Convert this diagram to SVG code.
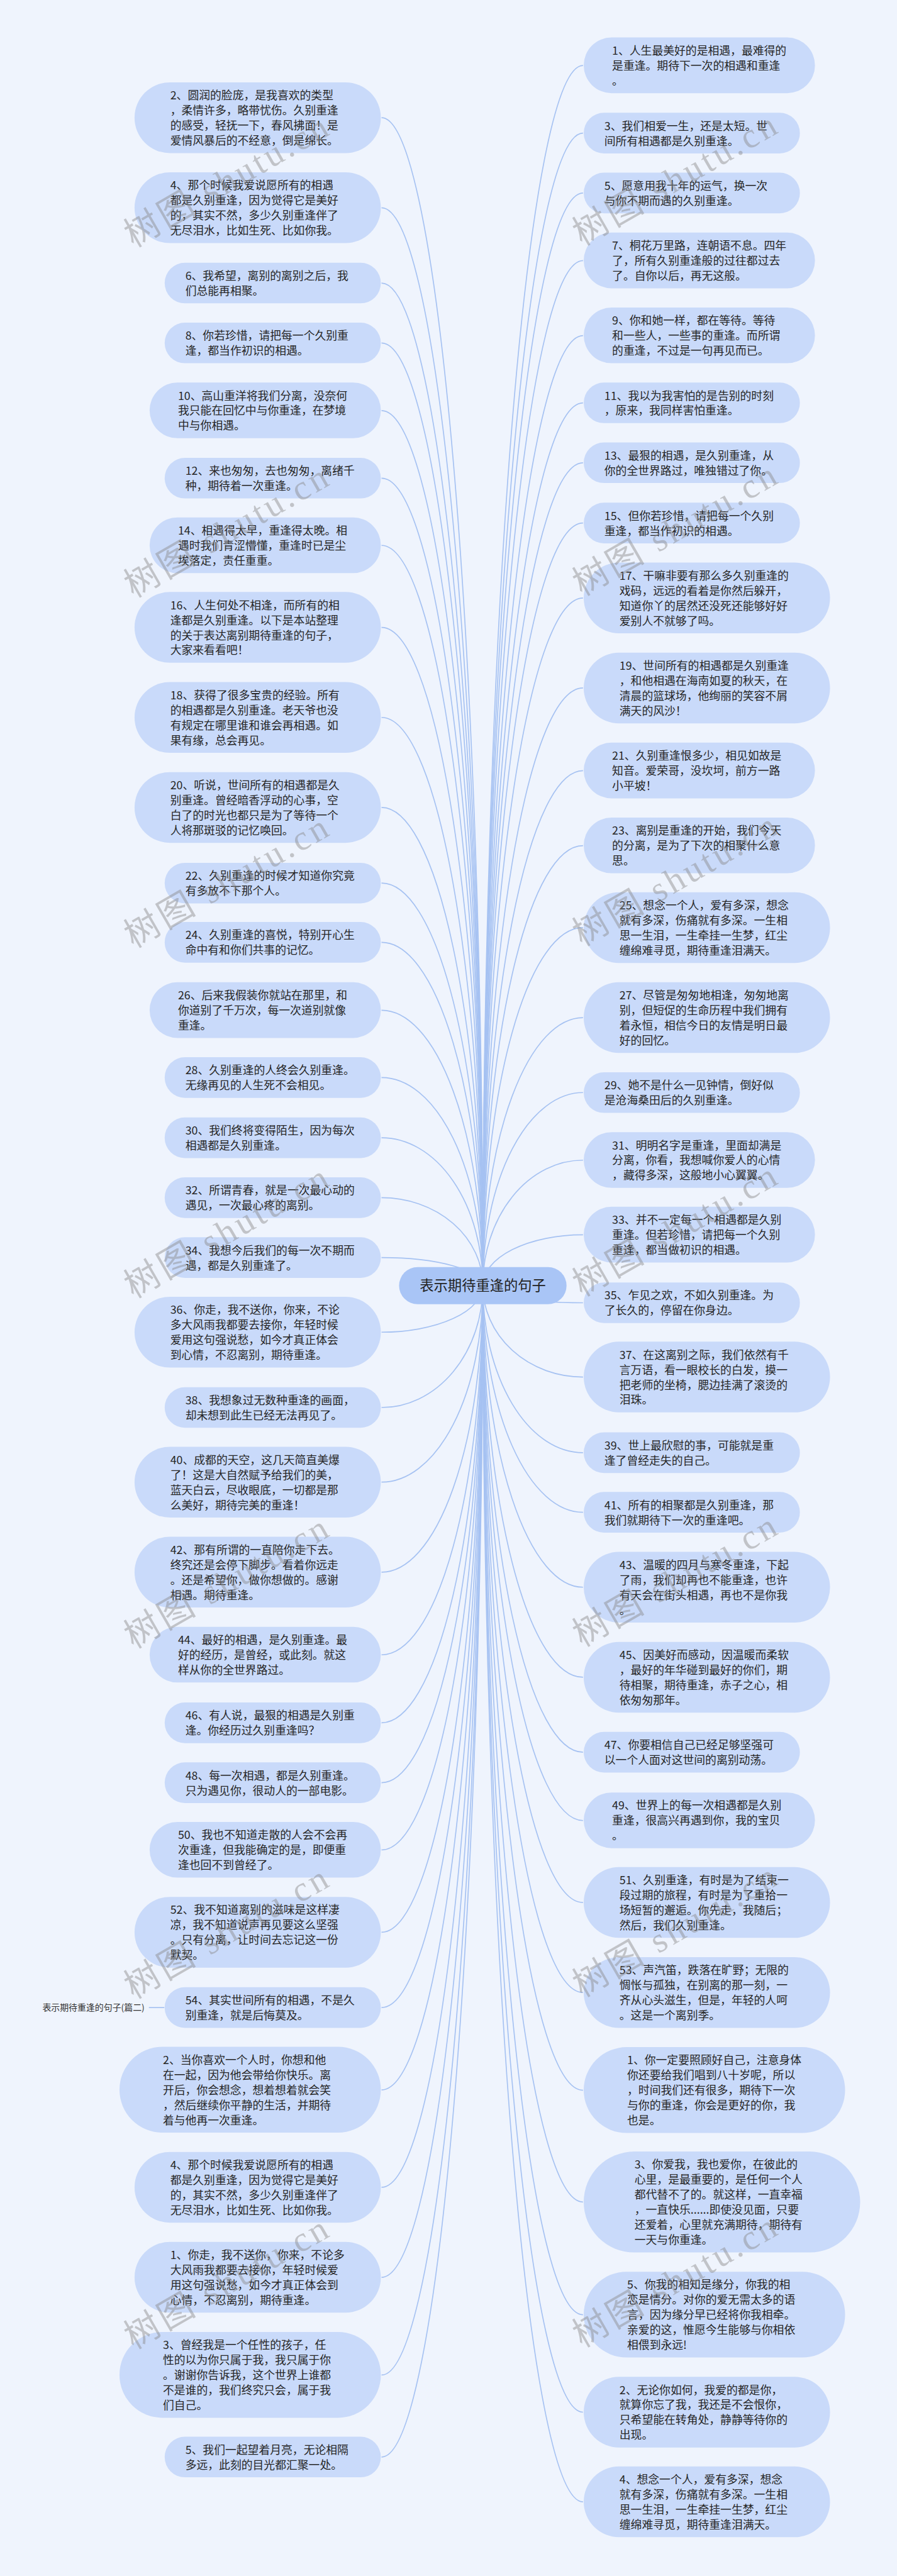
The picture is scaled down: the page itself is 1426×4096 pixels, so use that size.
<svg xmlns="http://www.w3.org/2000/svg" width="1426" height="4096" viewBox="0 0 1426 4096">
<style>
.n{fill:#c9dafa;}
.t{font-family:"Noto Sans CJK SC","Noto Sans",sans-serif;font-size:32px;fill:#262626;}
.c{fill:none;stroke:#a6c2f2;stroke-width:3;}
.w{font-family:"Liberation Serif","Noto Sans CJK SC",serif;font-size:100px;fill:#8a8a8a;opacity:0.45;}
</style>
<rect x="0" y="0" width="1426" height="4096" fill="#eff4fd"/>
<g transform="scale(0.557)">
<g id="connectors">
<path class="c" d="M1378 3670 A289 3334 0 0 0 1089 336"/>
<path class="c" d="M1378 3670 A289 3077 0 0 0 1089 593"/>
<path class="c" d="M1378 3670 A289 2862 0 0 0 1089 808"/>
<path class="c" d="M1378 3670 A289 2691 0 0 0 1089 979"/>
<path class="c" d="M1378 3670 A289 2498 0 0 0 1089 1172"/>
<path class="c" d="M1378 3670 A289 2305 0 0 0 1089 1365"/>
<path class="c" d="M1378 3670 A289 2113 0 0 0 1089 1557"/>
<path class="c" d="M1378 3670 A289 1879 0 0 0 1089 1791"/>
<path class="c" d="M1378 3670 A289 1622 0 0 0 1089 2048"/>
<path class="c" d="M1378 3670 A289 1365 0 0 0 1089 2305"/>
<path class="c" d="M1378 3670 A289 1149 0 0 0 1089 2521"/>
<path class="c" d="M1378 3670 A289 980 0 0 0 1089 2690"/>
<path class="c" d="M1378 3670 A289 786 0 0 0 1089 2884"/>
<path class="c" d="M1378 3670 A289 594 0 0 0 1089 3076"/>
<path class="c" d="M1378 3670 A289 422 0 0 0 1089 3248"/>
<path class="c" d="M1378 3670 A289 251 0 0 0 1089 3419"/>
<path class="c" d="M1378 3670 A289 80 0 0 0 1089 3590"/>
<path class="c" d="M1378 3670 A289 133 0 0 1 1089 3803"/>
<path class="c" d="M1378 3670 A289 348 0 0 1 1089 4018"/>
<path class="c" d="M1378 3670 A289 561 0 0 1 1089 4231"/>
<path class="c" d="M1378 3670 A289 818 0 0 1 1089 4488"/>
<path class="c" d="M1378 3670 A289 1054 0 0 1 1089 4724"/>
<path class="c" d="M1378 3670 A289 1248 0 0 1 1089 4918"/>
<path class="c" d="M1378 3670 A289 1419 0 0 1 1089 5089"/>
<path class="c" d="M1378 3670 A289 1611 0 0 1 1089 5281"/>
<path class="c" d="M1378 3670 A289 1846 0 0 1 1089 5516"/>
<path class="c" d="M1378 3670 A289 2061 0 0 1 1089 5731"/>
<path class="c" d="M1378 3670 A289 2296 0 0 1 1089 5966"/>
<path class="c" d="M1378 3670 A289 2574 0 0 1 1089 6244"/>
<path class="c" d="M1378 3670 A289 2831 0 0 1 1089 6501"/>
<path class="c" d="M1378 3670 A289 3110 0 0 1 1089 6780"/>
<path class="c" d="M1378 3670 A289 3344 0 0 1 1089 7014"/>
<path class="c" d="M1378 3670 A286 3483 0 0 1 1664 187"/>
<path class="c" d="M1378 3670 A286 3290 0 0 1 1664 380"/>
<path class="c" d="M1378 3670 A286 3119 0 0 1 1664 551"/>
<path class="c" d="M1378 3670 A286 2926 0 0 1 1664 744"/>
<path class="c" d="M1378 3670 A286 2712 0 0 1 1664 958"/>
<path class="c" d="M1378 3670 A286 2520 0 0 1 1664 1150"/>
<path class="c" d="M1378 3670 A286 2349 0 0 1 1664 1321"/>
<path class="c" d="M1378 3670 A286 2177 0 0 1 1664 1493"/>
<path class="c" d="M1378 3670 A286 1963 0 0 1 1664 1707"/>
<path class="c" d="M1378 3670 A286 1706 0 0 1 1664 1964"/>
<path class="c" d="M1378 3670 A286 1470 0 0 1 1664 2200"/>
<path class="c" d="M1378 3670 A286 1256 0 0 1 1664 2414"/>
<path class="c" d="M1378 3670 A286 1022 0 0 1 1664 2648"/>
<path class="c" d="M1378 3670 A286 765 0 0 1 1664 2905"/>
<path class="c" d="M1378 3670 A286 551 0 0 1 1664 3119"/>
<path class="c" d="M1378 3670 A286 358 0 0 1 1664 3312"/>
<path class="c" d="M1378 3670 A286 145 0 0 1 1664 3525"/>
<path class="c" d="M1378 3670 A286 49 0 0 0 1664 3719"/>
<path class="c" d="M1378 3670 A286 261 0 0 0 1664 3931"/>
<path class="c" d="M1378 3670 A286 477 0 0 0 1664 4147"/>
<path class="c" d="M1378 3670 A286 647 0 0 0 1664 4317"/>
<path class="c" d="M1378 3670 A286 861 0 0 0 1664 4531"/>
<path class="c" d="M1378 3670 A286 1118 0 0 0 1664 4788"/>
<path class="c" d="M1378 3670 A286 1332 0 0 0 1664 5002"/>
<path class="c" d="M1378 3670 A286 1527 0 0 0 1664 5197"/>
<path class="c" d="M1378 3670 A286 1761 0 0 0 1664 5431"/>
<path class="c" d="M1378 3670 A286 2018 0 0 0 1664 5688"/>
<path class="c" d="M1378 3670 A286 2297 0 0 0 1664 5967"/>
<path class="c" d="M1378 3670 A286 2616 0 0 0 1664 6286"/>
<path class="c" d="M1378 3670 A286 2938 0 0 0 1664 6608"/>
<path class="c" d="M1378 3670 A286 3216 0 0 0 1664 6886"/>
<path class="c" d="M1378 3670 A286 3472 0 0 0 1664 7142"/>
<path class="c" d="M425 5731 L469 5731"/>
</g>
<g id="L2"><rect class="n" x="384" y="235" width="703" height="202" rx="101"/><text class="t" x="486" y="284">2、圆润的脸庞，是我喜欢的类型</text><text class="t" x="486" y="327">，柔情许多，略带忧伤。久别重逢</text><text class="t" x="486" y="370">的感受，轻抚一下，春风拂面！是</text><text class="t" x="486" y="413">爱情风暴后的不经意，倒是绵长。</text></g>
<g id="L4"><rect class="n" x="384" y="492" width="703" height="202" rx="101"/><text class="t" x="486" y="541">4、那个时候我爱说愿所有的相遇</text><text class="t" x="486" y="584">都是久别重逢，因为觉得它是美好</text><text class="t" x="486" y="627">的，其实不然，多少久别重逢伴了</text><text class="t" x="486" y="670">无尽泪水，比如生死、比如你我。</text></g>
<g id="L6"><rect class="n" x="470" y="750" width="617" height="116" rx="58"/><text class="t" x="529" y="799">6、我希望，离别的离别之后，我</text><text class="t" x="529" y="842">们总能再相聚。</text></g>
<g id="L8"><rect class="n" x="470" y="921" width="617" height="116" rx="58"/><text class="t" x="529" y="970">8、你若珍惜，请把每一个久别重</text><text class="t" x="529" y="1013">逢，都当作初识的相遇。</text></g>
<g id="L10"><rect class="n" x="427" y="1092" width="660" height="159" rx="79.5"/><text class="t" x="508" y="1141">10、高山重洋将我们分离，没奈何</text><text class="t" x="508" y="1184">我只能在回忆中与你重逢，在梦境</text><text class="t" x="508" y="1227">中与你相遇。</text></g>
<g id="L12"><rect class="n" x="470" y="1307" width="617" height="116" rx="58"/><text class="t" x="529" y="1356">12、来也匆匆，去也匆匆，离绪千</text><text class="t" x="529" y="1399">种，期待着一次重逢。</text></g>
<g id="L14"><rect class="n" x="427" y="1477" width="660" height="159" rx="79.5"/><text class="t" x="508" y="1526">14、相遇得太早，重逢得太晚。相</text><text class="t" x="508" y="1569">遇时我们青涩懵懂，重逢时已是尘</text><text class="t" x="508" y="1612">埃落定，责任重重。</text></g>
<g id="L16"><rect class="n" x="384" y="1690" width="703" height="202" rx="101"/><text class="t" x="486" y="1739">16、人生何处不相逢，而所有的相</text><text class="t" x="486" y="1782">逢都是久别重逢。以下是本站整理</text><text class="t" x="486" y="1825">的关于表达离别期待重逢的句子，</text><text class="t" x="486" y="1868">大家来看看吧！</text></g>
<g id="L18"><rect class="n" x="384" y="1947" width="703" height="202" rx="101"/><text class="t" x="486" y="1996">18、获得了很多宝贵的经验。所有</text><text class="t" x="486" y="2039">的相遇都是久别重逢。老天爷也没</text><text class="t" x="486" y="2082">有规定在哪里谁和谁会再相遇。如</text><text class="t" x="486" y="2125">果有缘，总会再见。</text></g>
<g id="L20"><rect class="n" x="384" y="2204" width="703" height="202" rx="101"/><text class="t" x="486" y="2253">20、听说，世间所有的相遇都是久</text><text class="t" x="486" y="2296">别重逢。曾经暗香浮动的心事，空</text><text class="t" x="486" y="2339">白了的时光也都只是为了等待一个</text><text class="t" x="486" y="2382">人将那斑驳的记忆唤回。</text></g>
<g id="L22"><rect class="n" x="470" y="2463" width="617" height="116" rx="58"/><text class="t" x="529" y="2512">22、久别重逢的时候才知道你究竟</text><text class="t" x="529" y="2555">有多放不下那个人。</text></g>
<g id="L24"><rect class="n" x="470" y="2632" width="617" height="116" rx="58"/><text class="t" x="529" y="2681">24、久别重逢的喜悦，特别开心生</text><text class="t" x="529" y="2724">命中有和你们共事的记忆。</text></g>
<g id="L26"><rect class="n" x="427" y="2804" width="660" height="159" rx="79.5"/><text class="t" x="508" y="2853">26、后来我假装你就站在那里，和</text><text class="t" x="508" y="2896">你道别了千万次，每一次道别就像</text><text class="t" x="508" y="2939">重逢。</text></g>
<g id="L28"><rect class="n" x="470" y="3018" width="617" height="116" rx="58"/><text class="t" x="529" y="3067">28、久别重逢的人终会久别重逢。</text><text class="t" x="529" y="3110">无缘再见的人生死不会相见。</text></g>
<g id="L30"><rect class="n" x="470" y="3190" width="617" height="116" rx="58"/><text class="t" x="529" y="3239">30、我们终将变得陌生，因为每次</text><text class="t" x="529" y="3282">相遇都是久别重逢。</text></g>
<g id="L32"><rect class="n" x="470" y="3361" width="617" height="116" rx="58"/><text class="t" x="529" y="3410">32、所谓青春，就是一次最心动的</text><text class="t" x="529" y="3453">遇见，一次最心疼的离别。</text></g>
<g id="L34"><rect class="n" x="470" y="3532" width="617" height="116" rx="58"/><text class="t" x="529" y="3581">34、我想今后我们的每一次不期而</text><text class="t" x="529" y="3624">遇，都是久别重逢了。</text></g>
<g id="L36"><rect class="n" x="384" y="3702" width="703" height="202" rx="101"/><text class="t" x="486" y="3751">36、你走，我不送你，你来，不论</text><text class="t" x="486" y="3794">多大风雨我都要去接你，年轻时候</text><text class="t" x="486" y="3837">爱用这句强说愁，如今才真正体会</text><text class="t" x="486" y="3880">到心情，不忍离别，期待重逢。</text></g>
<g id="L38"><rect class="n" x="470" y="3960" width="617" height="116" rx="58"/><text class="t" x="529" y="4009">38、我想象过无数种重逢的画面，</text><text class="t" x="529" y="4052">却未想到此生已经无法再见了。</text></g>
<g id="L40"><rect class="n" x="384" y="4130" width="703" height="202" rx="101"/><text class="t" x="486" y="4179">40、成都的天空，这几天简直美爆</text><text class="t" x="486" y="4222">了！这是大自然赋予给我们的美，</text><text class="t" x="486" y="4265">蓝天白云，尽收眼底，一切都是那</text><text class="t" x="486" y="4308">么美好，期待完美的重逢！</text></g>
<g id="L42"><rect class="n" x="384" y="4387" width="703" height="202" rx="101"/><text class="t" x="486" y="4436">42、那有所谓的一直陪你走下去。</text><text class="t" x="486" y="4479">终究还是会停下脚步。看着你远走</text><text class="t" x="486" y="4522">。还是希望你，做你想做的。感谢</text><text class="t" x="486" y="4565">相遇。期待重逢。</text></g>
<g id="L44"><rect class="n" x="427" y="4644" width="660" height="159" rx="79.5"/><text class="t" x="508" y="4693">44、最好的相遇，是久别重逢。最</text><text class="t" x="508" y="4736">好的经历，是曾经，或此刻。就这</text><text class="t" x="508" y="4779">样从你的全世界路过。</text></g>
<g id="L46"><rect class="n" x="470" y="4860" width="617" height="116" rx="58"/><text class="t" x="529" y="4909">46、有人说，最狠的相遇是久别重</text><text class="t" x="529" y="4952">逢。你经历过久别重逢吗？</text></g>
<g id="L48"><rect class="n" x="470" y="5031" width="617" height="116" rx="58"/><text class="t" x="529" y="5080">48、每一次相遇，都是久别重逢。</text><text class="t" x="529" y="5123">只为遇见你，很动人的一部电影。</text></g>
<g id="L50"><rect class="n" x="427" y="5201" width="660" height="159" rx="79.5"/><text class="t" x="508" y="5250">50、我也不知道走散的人会不会再</text><text class="t" x="508" y="5293">次重逢，但我能确定的是，即便重</text><text class="t" x="508" y="5336">逢也回不到曾经了。</text></g>
<g id="L52"><rect class="n" x="384" y="5415" width="703" height="202" rx="101"/><text class="t" x="486" y="5464">52、我不知道离别的滋味是这样凄</text><text class="t" x="486" y="5507">凉，我不知道说声再见要这么坚强</text><text class="t" x="486" y="5550">。只有分离，让时间去忘记这一份</text><text class="t" x="486" y="5593">默契。</text></g>
<g id="L54"><rect class="n" x="470" y="5673" width="617" height="116" rx="58"/><text class="t" x="529" y="5722">54、其实世间所有的相遇，不是久</text><text class="t" x="529" y="5765">别重逢，就是后悔莫及。</text></g>
<g id="label2"><text x="121" y="5740" style="font-family:'Noto Sans CJK SC','Noto Sans',sans-serif;font-size:25px;fill:#333;">表示期待重逢的句子(篇二)</text></g>
<g id="LB2"><rect class="n" x="341" y="5843" width="746" height="245" rx="122.5"/><text class="t" x="465" y="5892">2、当你喜欢一个人时，你想和他</text><text class="t" x="465" y="5935">在一起，因为他会带给你快乐。离</text><text class="t" x="465" y="5978">开后，你会想念，想着想着就会笑</text><text class="t" x="465" y="6021">，然后继续你平静的生活，并期待</text><text class="t" x="465" y="6064">着与他再一次重逢。</text></g>
<g id="LB4"><rect class="n" x="384" y="6143" width="703" height="202" rx="101"/><text class="t" x="486" y="6192">4、那个时候我爱说愿所有的相遇</text><text class="t" x="486" y="6235">都是久别重逢，因为觉得它是美好</text><text class="t" x="486" y="6278">的，其实不然，多少久别重逢伴了</text><text class="t" x="486" y="6321">无尽泪水，比如生死、比如你我。</text></g>
<g id="LB1"><rect class="n" x="384" y="6400" width="703" height="202" rx="101"/><text class="t" x="486" y="6449">1、你走，我不送你，你来，不论多</text><text class="t" x="486" y="6492">大风雨我都要去接你，年轻时候爱</text><text class="t" x="486" y="6535">用这句强说愁，如今才真正体会到</text><text class="t" x="486" y="6578">心情，不忍离别，期待重逢。</text></g>
<g id="LB3"><rect class="n" x="341" y="6657" width="746" height="245" rx="122.5"/><text class="t" x="465" y="6706">3、曾经我是一个任性的孩子，任</text><text class="t" x="465" y="6749">性的以为你只属于我，我只属于你</text><text class="t" x="465" y="6792">。谢谢你告诉我，这个世界上谁都</text><text class="t" x="465" y="6835">不是谁的，我们终究只会，属于我</text><text class="t" x="465" y="6878">们自己。</text></g>
<g id="LB5"><rect class="n" x="470" y="6956" width="617" height="116" rx="58"/><text class="t" x="529" y="7005">5、我们一起望着月亮，无论相隔</text><text class="t" x="529" y="7048">多远，此刻的目光都汇聚一处。</text></g>
<g id="R1"><rect class="n" x="1666" y="107" width="660" height="159" rx="79.5"/><text class="t" x="1747" y="156">1、人生最美好的是相遇，最难得的</text><text class="t" x="1747" y="199">是重逢。期待下一次的相遇和重逢</text><text class="t" x="1747" y="242">。</text></g>
<g id="R3"><rect class="n" x="1666" y="322" width="617" height="116" rx="58"/><text class="t" x="1725" y="371">3、我们相爱一生，还是太短。世</text><text class="t" x="1725" y="414">间所有相遇都是久别重逢。</text></g>
<g id="R5"><rect class="n" x="1666" y="493" width="617" height="116" rx="58"/><text class="t" x="1725" y="542">5、愿意用我十年的运气，换一次</text><text class="t" x="1725" y="585">与你不期而遇的久别重逢。</text></g>
<g id="R7"><rect class="n" x="1666" y="664" width="660" height="159" rx="79.5"/><text class="t" x="1747" y="713">7、桐花万里路，连朝语不息。四年</text><text class="t" x="1747" y="756">了，所有久别重逢般的过往都过去</text><text class="t" x="1747" y="799">了。自你以后，再无这般。</text></g>
<g id="R9"><rect class="n" x="1666" y="878" width="660" height="159" rx="79.5"/><text class="t" x="1747" y="927">9、你和她一样，都在等待。等待</text><text class="t" x="1747" y="970">和一些人，一些事的重逢。而所谓</text><text class="t" x="1747" y="1013">的重逢，不过是一句再见而已。</text></g>
<g id="R11"><rect class="n" x="1666" y="1092" width="617" height="116" rx="58"/><text class="t" x="1725" y="1141">11、我以为我害怕的是告别的时刻</text><text class="t" x="1725" y="1184">，原来，我同样害怕重逢。</text></g>
<g id="R13"><rect class="n" x="1666" y="1263" width="617" height="116" rx="58"/><text class="t" x="1725" y="1312">13、最狠的相遇，是久别重逢，从</text><text class="t" x="1725" y="1355">你的全世界路过，唯独错过了你。</text></g>
<g id="R15"><rect class="n" x="1666" y="1435" width="617" height="116" rx="58"/><text class="t" x="1725" y="1484">15、但你若珍惜，请把每一个久别</text><text class="t" x="1725" y="1527">重逢，都当作初识的相遇。</text></g>
<g id="R17"><rect class="n" x="1666" y="1606" width="703" height="202" rx="101"/><text class="t" x="1768" y="1655">17、干嘛非要有那么多久别重逢的</text><text class="t" x="1768" y="1698">戏码，远远的看着是你然后躲开，</text><text class="t" x="1768" y="1741">知道你丫的居然还没死还能够好好</text><text class="t" x="1768" y="1784">爱别人不就够了吗。</text></g>
<g id="R19"><rect class="n" x="1666" y="1863" width="703" height="202" rx="101"/><text class="t" x="1768" y="1912">19、世间所有的相遇都是久别重逢</text><text class="t" x="1768" y="1955">，和他相遇在海南如夏的秋天，在</text><text class="t" x="1768" y="1998">清晨的篮球场，他绚丽的笑容不屑</text><text class="t" x="1768" y="2041">满天的风沙！</text></g>
<g id="R21"><rect class="n" x="1666" y="2120" width="660" height="159" rx="79.5"/><text class="t" x="1747" y="2169">21、久别重逢恨多少，相见如故是</text><text class="t" x="1747" y="2212">知音。爱荣哥，没坎坷，前方一路</text><text class="t" x="1747" y="2255">小平坡！</text></g>
<g id="R23"><rect class="n" x="1666" y="2334" width="660" height="159" rx="79.5"/><text class="t" x="1747" y="2383">23、离别是重逢的开始，我们今天</text><text class="t" x="1747" y="2426">的分离，是为了下次的相聚什么意</text><text class="t" x="1747" y="2469">思。</text></g>
<g id="R25"><rect class="n" x="1666" y="2547" width="703" height="202" rx="101"/><text class="t" x="1768" y="2596">25、想念一个人，爱有多深，想念</text><text class="t" x="1768" y="2639">就有多深，伤痛就有多深。一生相</text><text class="t" x="1768" y="2682">思一生泪，一生牵挂一生梦，红尘</text><text class="t" x="1768" y="2725">缠绵难寻觅，期待重逢泪满天。</text></g>
<g id="R27"><rect class="n" x="1666" y="2804" width="703" height="202" rx="101"/><text class="t" x="1768" y="2853">27、尽管是匆匆地相逢，匆匆地离</text><text class="t" x="1768" y="2896">别，但短促的生命历程中我们拥有</text><text class="t" x="1768" y="2939">着永恒，相信今日的友情是明日最</text><text class="t" x="1768" y="2982">好的回忆。</text></g>
<g id="R29"><rect class="n" x="1666" y="3061" width="617" height="116" rx="58"/><text class="t" x="1725" y="3110">29、她不是什么一见钟情，倒好似</text><text class="t" x="1725" y="3153">是沧海桑田后的久别重逢。</text></g>
<g id="R31"><rect class="n" x="1666" y="3232" width="660" height="159" rx="79.5"/><text class="t" x="1747" y="3281">31、明明名字是重逢，里面却满是</text><text class="t" x="1747" y="3324">分离，你看，我想喊你爱人的心情</text><text class="t" x="1747" y="3367">，藏得多深，这般地小心翼翼。</text></g>
<g id="R33"><rect class="n" x="1666" y="3445" width="660" height="159" rx="79.5"/><text class="t" x="1747" y="3494">33、并不一定每一个相遇都是久别</text><text class="t" x="1747" y="3537">重逢。但若珍惜，请把每一个久别</text><text class="t" x="1747" y="3580">重逢，都当做初识的相遇。</text></g>
<g id="R35"><rect class="n" x="1666" y="3661" width="617" height="116" rx="58"/><text class="t" x="1725" y="3710">35、乍见之欢，不如久别重逢。为</text><text class="t" x="1725" y="3753">了长久的，停留在你身边。</text></g>
<g id="R37"><rect class="n" x="1666" y="3830" width="703" height="202" rx="101"/><text class="t" x="1768" y="3879">37、在这离别之际，我们依然有千</text><text class="t" x="1768" y="3922">言万语，看一眼校长的白发，摸一</text><text class="t" x="1768" y="3965">把老师的坐椅，腮边挂满了滚烫的</text><text class="t" x="1768" y="4008">泪珠。</text></g>
<g id="R39"><rect class="n" x="1666" y="4089" width="617" height="116" rx="58"/><text class="t" x="1725" y="4138">39、世上最欣慰的事，可能就是重</text><text class="t" x="1725" y="4181">逢了曾经走失的自己。</text></g>
<g id="R41"><rect class="n" x="1666" y="4259" width="617" height="116" rx="58"/><text class="t" x="1725" y="4308">41、所有的相聚都是久别重逢，那</text><text class="t" x="1725" y="4351">我们就期待下一次的重逢吧。</text></g>
<g id="R43"><rect class="n" x="1666" y="4430" width="703" height="202" rx="101"/><text class="t" x="1768" y="4479">43、温暖的四月与寒冬重逢，下起</text><text class="t" x="1768" y="4522">了雨，我们却再也不能重逢，也许</text><text class="t" x="1768" y="4565">有天会在街头相遇，再也不是你我</text><text class="t" x="1768" y="4608">。</text></g>
<g id="R45"><rect class="n" x="1666" y="4687" width="703" height="202" rx="101"/><text class="t" x="1768" y="4736">45、因美好而感动，因温暖而柔软</text><text class="t" x="1768" y="4779">，最好的年华碰到最好的你们，期</text><text class="t" x="1768" y="4822">待相聚，期待重逢，赤子之心，相</text><text class="t" x="1768" y="4865">依匆匆那年。</text></g>
<g id="R47"><rect class="n" x="1666" y="4944" width="617" height="116" rx="58"/><text class="t" x="1725" y="4993">47、你要相信自己已经足够坚强可</text><text class="t" x="1725" y="5036">以一个人面对这世间的离别动荡。</text></g>
<g id="R49"><rect class="n" x="1666" y="5117" width="660" height="159" rx="79.5"/><text class="t" x="1747" y="5166">49、世界上的每一次相遇都是久别</text><text class="t" x="1747" y="5209">重逢，很高兴再遇到你，我的宝贝</text><text class="t" x="1747" y="5252">。</text></g>
<g id="R51"><rect class="n" x="1666" y="5330" width="703" height="202" rx="101"/><text class="t" x="1768" y="5379">51、久别重逢，有时是为了结束一</text><text class="t" x="1768" y="5422">段过期的旅程，有时是为了重拾一</text><text class="t" x="1768" y="5465">场短暂的邂逅。你先走，我随后；</text><text class="t" x="1768" y="5508">然后，我们久别重逢。</text></g>
<g id="R53"><rect class="n" x="1666" y="5587" width="703" height="202" rx="101"/><text class="t" x="1768" y="5636">53、声汽笛，跌落在旷野；无限的</text><text class="t" x="1768" y="5679">惆怅与孤独，在别离的那一刻，一</text><text class="t" x="1768" y="5722">齐从心头滋生，但是，年轻的人呵</text><text class="t" x="1768" y="5765">。这是一个离别季。</text></g>
<g id="RB1"><rect class="n" x="1666" y="5844" width="746" height="245" rx="122.5"/><text class="t" x="1790" y="5893">1、你一定要照顾好自己，注意身体</text><text class="t" x="1790" y="5936">你还要给我们唱到八十岁呢，所以</text><text class="t" x="1790" y="5979">，时间我们还有很多，期待下一次</text><text class="t" x="1790" y="6022">与你的重逢，你会是更好的你，我</text><text class="t" x="1790" y="6065">也是。</text></g>
<g id="RB3"><rect class="n" x="1666" y="6142" width="789" height="288" rx="144"/><text class="t" x="1811" y="6191">3、你爱我，我也爱你，在彼此的</text><text class="t" x="1811" y="6234">心里，是最重要的，是任何一个人</text><text class="t" x="1811" y="6277">都代替不了的。就这样，一直幸福</text><text class="t" x="1811" y="6320">，一直快乐......即使没见面，只要</text><text class="t" x="1811" y="6363">还爱着，心里就充满期待，期待有</text><text class="t" x="1811" y="6406">一天与你重逢。</text></g>
<g id="RB5"><rect class="n" x="1666" y="6485" width="746" height="245" rx="122.5"/><text class="t" x="1790" y="6534">5、你我的相知是缘分，你我的相</text><text class="t" x="1790" y="6577">恋是情分。对你的爱无需太多的语</text><text class="t" x="1790" y="6620">言，因为缘分早已经将你我相牵。</text><text class="t" x="1790" y="6663">亲爱的这，惟愿今生能够与你相依</text><text class="t" x="1790" y="6706">相偎到永远!</text></g>
<g id="RB2"><rect class="n" x="1666" y="6785" width="703" height="202" rx="101"/><text class="t" x="1768" y="6834">2、无论你如何，我爱的都是你，</text><text class="t" x="1768" y="6877">就算你忘了我，我还是不会恨你，</text><text class="t" x="1768" y="6920">只希望能在转角处，静静等待你的</text><text class="t" x="1768" y="6963">出现。</text></g>
<g id="RB4"><rect class="n" x="1666" y="7041" width="703" height="202" rx="101"/><text class="t" x="1768" y="7090">4、想念一个人，爱有多深，想念</text><text class="t" x="1768" y="7133">就有多深，伤痛就有多深。一生相</text><text class="t" x="1768" y="7176">思一生泪，一生牵挂一生梦，红尘</text><text class="t" x="1768" y="7219">缠绵难寻觅，期待重逢泪满天。</text></g>
<g id="center"><rect x="1139" y="3617" width="478" height="106" rx="53" fill="#a9c5f6"/><text x="1378" y="3684" text-anchor="middle" style="font-family:'Noto Sans CJK SC','Noto Sans',sans-serif;font-size:40px;fill:#222;">表示期待重逢的句子</text></g>
<g id="watermarks">
<text class="w" x="645" y="550" text-anchor="middle" transform="rotate(-30 645 515)" textLength="650" lengthAdjust="spacing">树图 shutu.cn</text>
<text class="w" x="645" y="1550" text-anchor="middle" transform="rotate(-30 645 1515)" textLength="650" lengthAdjust="spacing">树图 shutu.cn</text>
<text class="w" x="645" y="2550" text-anchor="middle" transform="rotate(-30 645 2515)" textLength="650" lengthAdjust="spacing">树图 shutu.cn</text>
<text class="w" x="645" y="3550" text-anchor="middle" transform="rotate(-30 645 3515)" textLength="650" lengthAdjust="spacing">树图 shutu.cn</text>
<text class="w" x="645" y="4550" text-anchor="middle" transform="rotate(-30 645 4515)" textLength="650" lengthAdjust="spacing">树图 shutu.cn</text>
<text class="w" x="645" y="5550" text-anchor="middle" transform="rotate(-30 645 5515)" textLength="650" lengthAdjust="spacing">树图 shutu.cn</text>
<text class="w" x="645" y="6550" text-anchor="middle" transform="rotate(-30 645 6515)" textLength="650" lengthAdjust="spacing">树图 shutu.cn</text>
<text class="w" x="1925" y="545" text-anchor="middle" transform="rotate(-30 1925 510)" textLength="650" lengthAdjust="spacing">树图 shutu.cn</text>
<text class="w" x="1925" y="1545" text-anchor="middle" transform="rotate(-30 1925 1510)" textLength="650" lengthAdjust="spacing">树图 shutu.cn</text>
<text class="w" x="1925" y="2545" text-anchor="middle" transform="rotate(-30 1925 2510)" textLength="650" lengthAdjust="spacing">树图 shutu.cn</text>
<text class="w" x="1925" y="3545" text-anchor="middle" transform="rotate(-30 1925 3510)" textLength="650" lengthAdjust="spacing">树图 shutu.cn</text>
<text class="w" x="1925" y="4545" text-anchor="middle" transform="rotate(-30 1925 4510)" textLength="650" lengthAdjust="spacing">树图 shutu.cn</text>
<text class="w" x="1925" y="5545" text-anchor="middle" transform="rotate(-30 1925 5510)" textLength="650" lengthAdjust="spacing">树图 shutu.cn</text>
<text class="w" x="1925" y="6545" text-anchor="middle" transform="rotate(-30 1925 6510)" textLength="650" lengthAdjust="spacing">树图 shutu.cn</text>
</g>
</g>
</svg>
